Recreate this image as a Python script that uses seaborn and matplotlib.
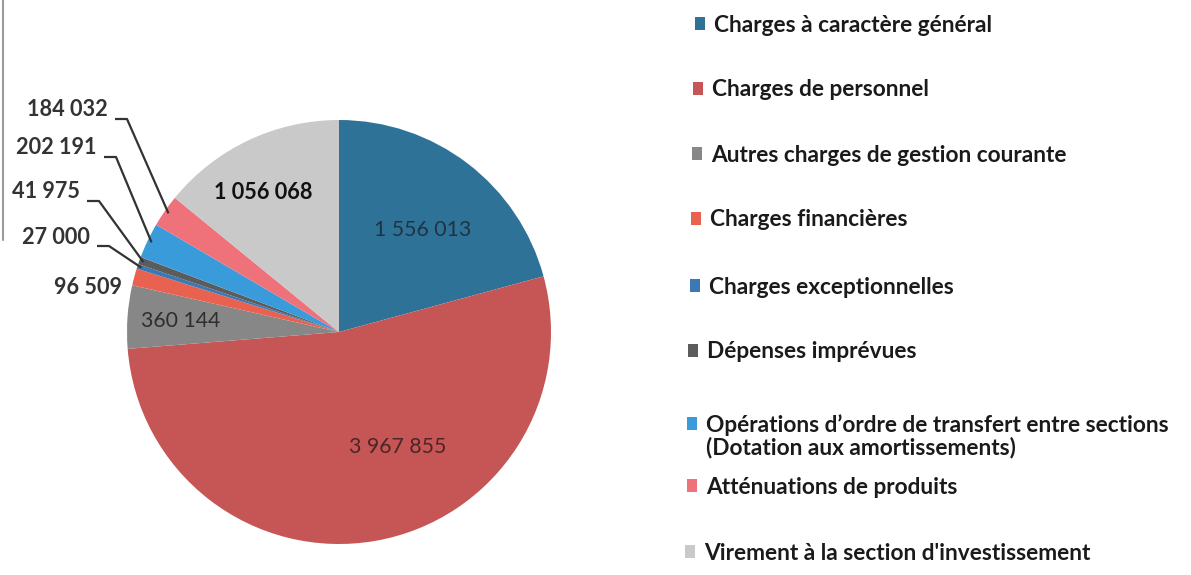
import numpy as np
import matplotlib
matplotlib.use("Agg")
import matplotlib.pyplot as plt
import seaborn as sns
from matplotlib.patches import Patch
from matplotlib.lines import Line2D

# ---- data ----
categories = [
    "Charges à caractère général",
    "Charges de personnel",
    "Autres charges de gestion courante",
    "Charges financières",
    "Charges exceptionnelles",
    "Dépenses imprévues",
    "Opérations d’ordre de transfert entre sections\n(Dotation aux amortissements)",
    "Atténuations de produits",
    "Virement à la section d'investissement",
]
values = [1556013, 3967855, 360144, 96509, 27000, 41975, 202191, 184032, 1056068]
value_labels = ["1 556 013", "3 967 855", "360 144", "96 509", "27 000",
                "41 975", "202 191", "184 032", "1 056 068"]
colors = ["#2F7297", "#C65655", "#878787", "#E8624F", "#3A79B6",
          "#5C5C5C", "#3A9BDA", "#EF717A", "#C9C9C9"]

# ---- style ----
sns.set_theme(style="white")
plt.rcParams['font.family'] = ['Lato', 'DejaVu Sans']
palette = sns.color_palette(colors)

W, H = 1191, 575
fig = plt.figure(figsize=(W / 100, H / 100), dpi=100)
fig.patch.set_facecolor("white")
cx, cy, R = 339, 332, 212          # pie centre and radius in pixels
ax = fig.add_axes([0, 0, 1, 1])

wedges, _ = ax.pie(values, colors=palette, startangle=90, counterclock=False,
                   radius=1, center=(0, 0), wedgeprops=dict(linewidth=0))
ax.set_xlim(-cx / R, (W - cx) / R)
ax.set_ylim((cy - H) / R, cy / R)
ax.set_aspect('equal')
ax.axis('off')


def P(px, py):
    return ((px - cx) / R, (cy - py) / R)


def mid_angle(w):
    return np.deg2rad((w.theta1 + w.theta2) / 2)


# inside labels: index -> (radius, shift in degrees from mid angle, style)
inside = {
    0: (0.62, -2, dict(fontsize=15.3, color="#1f3443", fontweight="normal")),
    1: (0.61, 17, dict(fontsize=15.3, color="#4a2626", fontweight="normal")),
    2: (0.75, 0, dict(fontsize=15.3, color="#2e2e2e", fontweight="normal")),
    8: (0.75, 3, dict(fontsize=15.6, color="#111111", fontweight="bold")),
}
for i, (r, sh, st) in inside.items():
    a = mid_angle(wedges[i]) + np.deg2rad(sh)
    ax.text(r * np.cos(a), r * np.sin(a), value_labels[i], ha="center",
            va="center", **st)

# outside labels: index -> (text right edge px, text centre y px, leader?)
outside = {
    7: (108, 110, True),
    6: (97, 148, True),
    5: (80, 192, True),
    4: (90, 237, True),
    3: (122, 287, False),
}
for i, (xr, yc, lead) in outside.items():
    tx, ty = P(xr, yc)
    ax.text(tx, ty, value_labels[i], ha="right", va="center", fontsize=15.6,
            fontweight="bold", color="#333333")
    if lead:
        a = mid_angle(wedges[i])
        x0, y0 = P(xr + 7, yc + 9)
        x1, y1 = P(xr + 19, yc + 9)
        x2, y2 = 0.98 * np.cos(a), 0.98 * np.sin(a)
        ax.plot([x0, x1, x2], [y0, y1, y2], color="#333333", lw=1.6,
                solid_capstyle="butt")

# legend entries (one per category, placed like the original layout)
leg_y = [25, 90, 155, 220, 287, 352, 425, 487, 553]
leg_x = [695, 693, 692, 691, 690, 688, 687, 687, 685]
legend_font = dict(family=['Lato', 'DejaVu Sans'], weight="bold", size=16.3)
extra_lines = []
for cat, col, lx, ly in zip(categories, colors, leg_x, leg_y):
    lines = cat.split("\n")
    leg = fig.legend([Patch(facecolor=col, edgecolor="none")], [lines[0]],
                     loc="center left", bbox_to_anchor=(lx / W, 1 - ly / H),
                     frameon=False, prop=legend_font,
                     handlelength=0.45, handleheight=0.5, handletextpad=0.4,
                     borderaxespad=0, borderpad=0)
    for t in leg.get_texts():
        t.set_color("#1a1a1a")
    if len(lines) > 1:
        extra_lines.append((leg, lines[1:], ly))

fig.canvas.draw()
renderer = fig.canvas.get_renderer()
for leg, rest, ly in extra_lines:
    bb = leg.get_texts()[0].get_window_extent(renderer)
    for k, line in enumerate(rest, start=1):
        fig.text(bb.x0 / W, 1 - (ly + 22 * k) / H, line, ha="left",
                 va="center", color="#1a1a1a", fontproperties=None,
                 family=['Lato', 'DejaVu Sans'], weight="bold", size=16.3)

# thin scan border line at the left
fig.add_artist(Line2D([3 / W, 3 / W], [1, 1 - 240 / H], color="#9a9a9a",
                      lw=1.5, transform=fig.transFigure))

fig.savefig("out.png", dpi=100, facecolor="white")
